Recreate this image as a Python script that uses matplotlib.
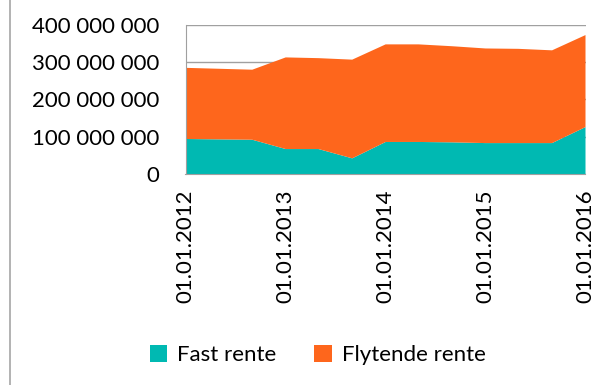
import matplotlib
matplotlib.use("Agg")
import matplotlib.pyplot as plt
import matplotlib.dates as mdates
from matplotlib.lines import Line2D
from matplotlib.patches import Patch
import numpy as np
import pandas as pd

# balance per reporting date, split by interest type
dates = ["2012-01-01", "2012-09-01", "2013-01-01", "2013-05-01", "2013-09-01",
         "2014-01-01", "2014-05-01", "2014-09-01", "2015-01-01", "2015-05-01",
         "2015-09-01", "2016-01-01"]
fast_rente = [94, 92, 67, 67, 42, 86, 86, 85, 83, 83, 83, 126]
total = [285, 280, 313, 311, 307, 348, 348, 343, 337, 336, 332, 373]
flytende_rente = [t - f for t, f in zip(total, fast_rente)]

series_names = ["Fast rente", "Flytende rente"]
colors = ["#00B9B2", "#FE661C"]
tick_dates = ["2012-01-01", "2013-01-01", "2014-01-01", "2015-01-01", "2016-01-01"]

plt.rcParams["font.family"] = ["Lato", "DejaVu Sans"]
FS = 16

x = pd.to_datetime(dates)
fast = np.array(fast_rente) * 1e6
flyt = np.array(flytende_rente) * 1e6

fig = plt.figure(figsize=(6.03, 3.85), dpi=100)
ax = fig.add_axes([185.5 / 603, 1 - 174 / 385, 400 / 603, 149 / 385])

ax.stackplot(x, fast, flyt, colors=colors, zorder=2, linewidth=0)

ax.set_xlim(pd.Timestamp("2012-01-01"), pd.Timestamp("2016-01-01"))
ax.set_ylim(0, 400e6)
ax.set_yticks(np.arange(0, 400e6 + 1, 100e6))
ax.yaxis.set_major_formatter(
    matplotlib.ticker.FuncFormatter(lambda v, p: f"{int(v):,}".replace(",", " ")))
ax.set_xticks(pd.to_datetime(tick_dates))
ax.xaxis.set_major_formatter(mdates.DateFormatter("%d.%m.%Y"))

ax.grid(axis="y", color="#A0A0A0", linewidth=1, zorder=0)
ax.set_axisbelow(True)
for s in ["top", "right"]:
    ax.spines[s].set_visible(False)
for s in ["left", "bottom"]:
    ax.spines[s].set_color("#A0A0A0")
    ax.spines[s].set_zorder(3)

ax.tick_params(axis="y", length=0, pad=19, labelsize=FS, colors="#000000")
ax.tick_params(axis="x", length=0, pad=11, labelsize=FS, rotation=90)

handles = [Patch(facecolor=c, edgecolor="none") for c in colors]
fig.legend(handles, series_names, loc="center", bbox_to_anchor=(0.527, 0.078),
           ncol=2, frameon=False, fontsize=FS, handlelength=0.8, handleheight=0.8,
           handletextpad=0.45, columnspacing=1.7)

# chart frame edge on the left
fig.add_artist(Line2D([10 / 603, 10 / 603], [0, 1], color="#A6A6A6", linewidth=1.2,
                      transform=fig.transFigure))

fig.savefig("out.png", dpi=100)
